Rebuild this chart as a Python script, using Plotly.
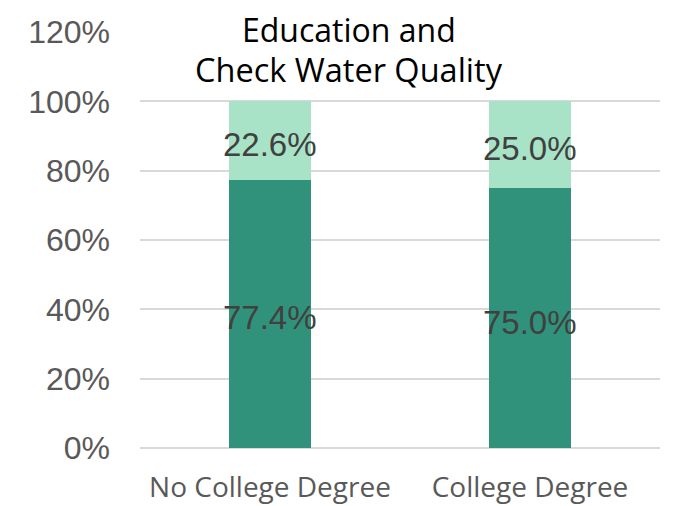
import plotly.graph_objects as go

categories = ["No College Degree", "College Degree"]
no_check = [0.774, 0.750]   # dark segment
check = [0.226, 0.250]      # light segment
tick_vals = [0, 0.2, 0.4, 0.6, 0.8, 1.0, 1.2]
tick_text = ["0%", "20%", "40%", "60%", "80%", "100%", "120%"]
title_lines = ["Education and", "Check Water Quality"]

dark = "#31927C"
light = "#A8E2C7"

fig = go.Figure()
fig.add_trace(go.Bar(x=categories, y=no_check, marker=dict(color=dark, line=dict(width=0)),
                     showlegend=False, hoverinfo="skip"))
fig.add_trace(go.Bar(x=categories, y=check, marker=dict(color=light, line=dict(width=0)),
                     showlegend=False, hoverinfo="skip"))

# data labels at segment midpoints
mid_bottom = [v / 2 for v in no_check]
mid_top = [a + b / 2 for a, b in zip(no_check, check)]
label_font = dict(family="Liberation Sans, Arial", size=33, color="#404040")
annotations = []
for cat, yb, vb, yt, vt in zip(categories, mid_bottom, no_check, mid_top, check):
    annotations.append(dict(x=cat, y=yb, text=f"{vb*100:.1f}%", showarrow=False,
                            xanchor="center", yanchor="middle", yshift=-4, font=label_font))
    annotations.append(dict(x=cat, y=yt, text=f"{vt*100:.1f}%", showarrow=False,
                            xanchor="center", yanchor="middle", yshift=-4, font=label_font))

annotations.append(dict(text=title_lines[0], xref="paper", yref="paper",
                        x=0.402, y=1.005, xanchor="center", yanchor="middle", showarrow=False,
                        borderpad=0, font=dict(family="Open Sans", size=32, color="black")))
annotations.append(dict(text=title_lines[1], xref="paper", yref="paper",
                        x=0.402, y=0.909, xanchor="center", yanchor="middle", showarrow=False,
                        borderpad=0, font=dict(family="Open Sans", size=32.5, color="black")))

fig.update_layout(
    barmode="stack",
    bargap=0.685,
    width=674, height=506,
    margin=dict(l=132, r=22, t=24, b=66, autoexpand=False),
    plot_bgcolor="white", paper_bgcolor="white",
    xaxis=dict(showgrid=False, showline=False, ticks="", ticklabelstandoff=20,
               tickfont=dict(family="Open Sans", size=28, color="#595959")),
    yaxis=dict(range=[0, 1.2], tickvals=tick_vals, ticktext=tick_text,
               showgrid=True, gridcolor="#D9D9D9", gridwidth=1.5,
               zeroline=True, zerolinecolor="#D9D9D9", zerolinewidth=1.5,
               showline=False, ticks="", ticklabelstandoff=29,
               tickfont=dict(family="Liberation Sans, Arial", size=32, color="#595959")),
    annotations=annotations,
)

fig.write_html("out.html")
